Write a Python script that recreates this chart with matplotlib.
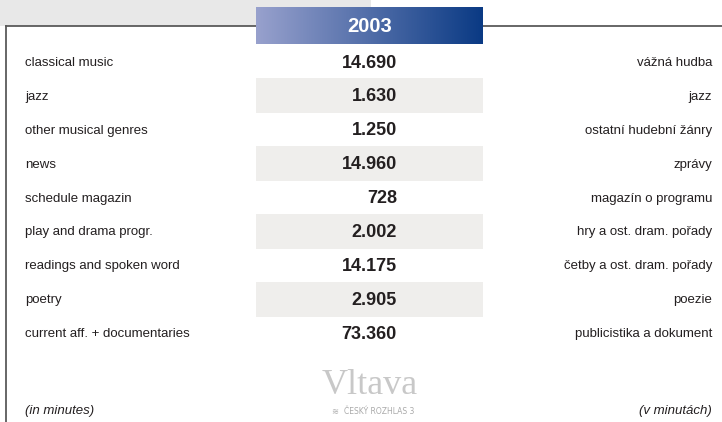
import numpy as np
from matplotlib import pyplot as plt
from matplotlib.patches import Rectangle
from matplotlib.colors import LinearSegmentedColormap

year = '2003'
labels_en = ['classical music', 'jazz', 'other musical genres', 'news', 'schedule magazin',
             'play and drama progr.', 'readings and spoken word', 'poetry',
             'current aff. + documentaries']
labels_cz = ['vážná hudba', 'jazz', 'ostatní hudební žánry', 'zprávy', 'magazín o programu',
             'hry a ost. dram. pořady', 'četby a ost. dram. pořady', 'poezie',
             'publicistika a dokument']
minutes = ['14.690', '1.630', '1.250', '14.960', '728', '2.002', '14.175', '2.905', '73.360']

W, H = 722, 422
sans = ['Liberation Sans', 'DejaVu Sans']
ink = '#231f20'

fig = plt.figure(figsize=(W / 100, H / 100), dpi=100)
ax = fig.add_axes([0, 0, 1, 1])
ax.set_xlim(0, W)
ax.set_ylim(H, 0)
ax.axis('off')

# frame: grey corner, top rule and left rule
ax.add_patch(Rectangle((0, 0), 371, 25.5, color='#e8e8e8', lw=0, zorder=0))
ax.plot([6, W], [25.5, 25.5], color='#5a5a5a', lw=1.3, zorder=1)
ax.plot([6, 6], [25.5, H], color='#5a5a5a', lw=1.3, zorder=1)

# header with gradient
grad = np.linspace(0, 1, 256).reshape(1, -1)
cmap = LinearSegmentedColormap.from_list('hdr', ['#98a1cd', '#0a3a84'])
ax.imshow(grad, cmap=cmap, extent=[256, 483, 44, 7], aspect='auto', zorder=2)
ax.text(370, 26.5, year, ha='center', va='center', color='white', fontsize=14.5,
        fontweight='bold', family=sans, zorder=3)

y0, pitch = 63, 33.9
rows = y0 + pitch * np.arange(len(labels_en))
shade = np.arange(len(labels_en)) % 2 == 1
ax.barh(rows[shade] - 1, 227, left=256, height=35, color='#efeeec', zorder=1)

for y, en, val, cz in zip(rows, labels_en, minutes, labels_cz):
    ax.text(25, y, en, ha='left', va='center', fontsize=9.5, color=ink, family=sans)
    ax.text(397, y, val, ha='right', va='center', fontsize=13, color=ink,
            fontweight='bold', family=sans)
    ax.text(712, y, cz, ha='right', va='center', fontsize=9.5, color=ink, family=sans)

# footnotes
ax.text(25, 411, '(in minutes)', ha='left', va='center', fontsize=9.5, style='italic',
        color=ink, family=sans)
ax.text(712, 411, '(v minutách)', ha='right', va='center', fontsize=9.5, style='italic',
        color=ink, family=sans)

# logo
ax.text(370, 386, 'Vltava', ha='center', va='center', fontsize=26, color='#c8c8c8',
        family=['Liberation Serif', 'DejaVu Serif'])
ax.text(335, 412, '≋', ha='center', va='center', fontsize=6, color='#aaaaaa',
        family=['DejaVu Sans'])
ax.text(344, 412, 'ČESKÝ ROZHLAS 3', ha='left', va='center', fontsize=5.5,
        color='#aaaaaa', family=['DejaVu Sans'])

fig.savefig('out.png', dpi=100)
